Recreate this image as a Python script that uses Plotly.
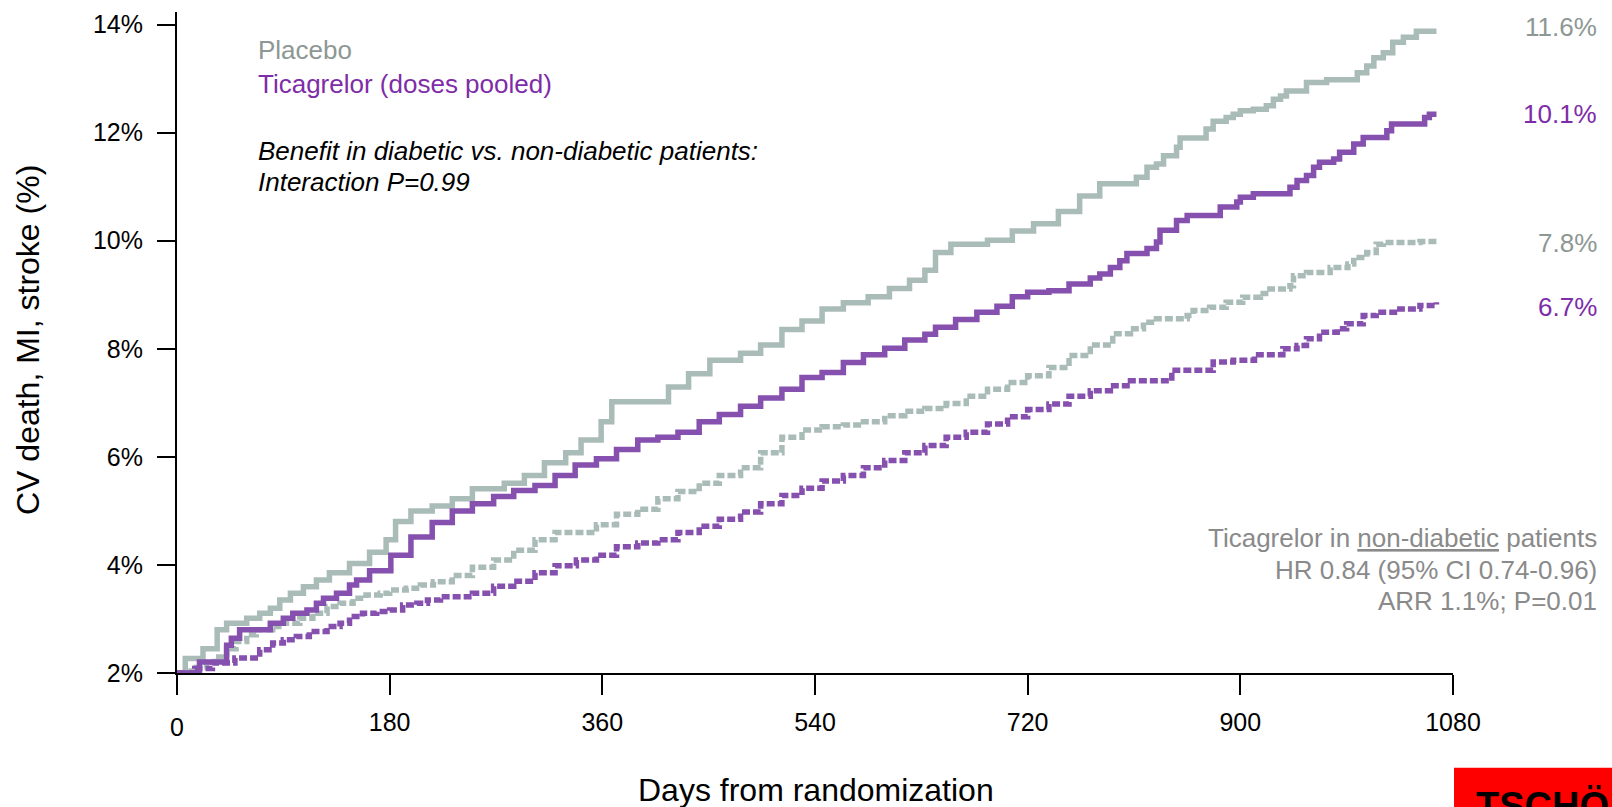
import plotly.graph_objects as go

# Kaplan-Meier cumulative event rates (%), CV death / MI / stroke
placebo_dm_days = [0, 7, 22, 34, 42, 59, 70, 79, 87, 96, 107, 118, 129, 146, 163, 177, 185, 198, 216,
                   233, 250, 277, 294, 311, 329, 342, 359, 368, 416, 433, 451, 477, 494, 512, 529, 546,
                   564, 585, 603, 620, 633, 642, 655, 686, 707, 725, 746, 764, 781, 812, 821, 829, 835,
                   846, 849, 871, 877, 888, 894, 900, 911, 922, 928, 934, 939, 956, 973, 999, 1007, 1013,
                   1021, 1029, 1038, 1049, 1066]
placebo_dm_vals = [0, 0.26, 0.44, 0.78, 0.90, 0.99, 1.08, 1.17, 1.32, 1.44, 1.56, 1.68, 1.81, 1.98, 2.18,
                   2.41, 2.74, 2.93, 3.02, 3.15, 3.33, 3.43, 3.57, 3.80, 3.98, 4.21, 4.54, 4.90, 5.17,
                   5.41, 5.65, 5.78, 5.93, 6.21, 6.36, 6.58, 6.69, 6.80, 6.95, 7.10, 7.28, 7.60, 7.75,
                   7.82, 7.99, 8.12, 8.34, 8.62, 8.84, 8.96, 9.14, 9.20, 9.35, 9.50, 9.67, 9.83, 9.97,
                   10.04, 10.10, 10.16, 10.19, 10.25, 10.37, 10.43, 10.52, 10.67, 10.72, 10.85, 10.97,
                   11.12, 11.21, 11.40, 11.49, 11.6, 11.6]

tica_dm_days = [0, 19, 42, 46, 53, 79, 90, 98, 110, 118, 124, 135, 146, 152, 163, 181, 198, 216, 233,
                250, 268, 285, 303, 320, 337, 355, 372, 390, 407, 424, 442, 459, 477, 494, 512, 529,
                546, 564, 581, 599, 616, 633, 642, 659, 677, 694, 707, 720, 738, 755, 773, 781, 790,
                798, 804, 821, 829, 832, 846, 855, 883, 897, 900, 911, 942, 948, 956, 962, 967, 979,
                984, 996, 1004, 1024, 1028, 1056, 1060, 1066]
tica_dm_vals = [0, 0.2, 0.5, 0.63, 0.78, 0.9, 0.99, 1.08, 1.14, 1.26, 1.35, 1.44, 1.59, 1.68, 1.85,
                2.13, 2.46, 2.72, 2.93, 3.06, 3.19, 3.30, 3.39, 3.57, 3.76, 3.87, 4.04, 4.21, 4.26,
                4.35, 4.54, 4.67, 4.82, 4.97, 5.13, 5.34, 5.43, 5.61, 5.75, 5.87, 6.02, 6.12, 6.25,
                6.39, 6.52, 6.63, 6.80, 6.88, 6.91, 7.03, 7.14, 7.21, 7.33, 7.45, 7.58, 7.67, 7.79,
                8.00, 8.18, 8.27, 8.42, 8.51, 8.60, 8.66, 8.78, 8.90, 8.99, 9.14, 9.23, 9.29, 9.41,
                9.56, 9.68, 9.80, 9.92, 10.04, 10.1, 10.1]

placebo_nodm_days = [0, 12, 25, 32, 42, 50, 59, 67, 81, 90, 104, 115, 127, 138, 149, 160, 172, 180,
                     194, 206, 217, 233, 250, 268, 285, 303, 320, 355, 372, 390, 407, 424, 442, 459,
                     477, 494, 512, 529, 546, 564, 581, 599, 616, 633, 651, 668, 686, 703, 720, 738,
                     755, 773, 792, 807, 818, 829, 855, 860, 874, 888, 902, 917, 925, 942, 945, 956,
                     976, 991, 996, 1007, 1015, 1021, 1052, 1066]
placebo_nodm_vals = [0, 0.1, 0.2, 0.29, 0.44, 0.57, 0.69, 0.78, 0.84, 0.90, 0.99, 1.08, 1.20, 1.26,
                     1.35, 1.41, 1.44, 1.50, 1.53, 1.59, 1.65, 1.76, 1.91, 2.04, 2.22, 2.41, 2.54,
                     2.68, 2.87, 2.96, 3.15, 3.28, 3.43, 3.57, 3.71, 3.98, 4.26, 4.39, 4.45, 4.48,
                     4.54, 4.65, 4.73, 4.78, 4.87, 5.00, 5.13, 5.25, 5.37, 5.52, 5.74, 5.93, 6.13,
                     6.22, 6.34, 6.40, 6.46, 6.55, 6.61, 6.70, 6.79, 6.86, 6.94, 7.00, 7.18, 7.24,
                     7.33, 7.39, 7.51, 7.60, 7.75, 7.78, 7.8, 7.8]

tica_nodm_days = [0, 15, 30, 49, 70, 81, 90, 101, 112, 127, 138, 146, 157, 169, 180, 191, 203, 212,
                  223, 250, 268, 285, 303, 320, 338, 355, 372, 390, 407, 424, 442, 459, 477, 494, 512,
                  529, 546, 564, 581, 599, 616, 633, 651, 668, 686, 703, 720, 738, 755, 773, 790, 807,
                  842, 877, 894, 912, 936, 948, 956, 967, 982, 990, 1004, 1015, 1035, 1052, 1066]
tica_nodm_vals = [0, 0.08, 0.18, 0.27, 0.42, 0.54, 0.60, 0.66, 0.75, 0.84, 0.90, 1.02, 1.08, 1.11,
                  1.14, 1.23, 1.26, 1.32, 1.38, 1.44, 1.57, 1.66, 1.81, 1.94, 2.04, 2.13, 2.28, 2.35,
                  2.41, 2.54, 2.65, 2.78, 2.91, 3.06, 3.21, 3.34, 3.47, 3.57, 3.71, 3.84, 3.98, 4.11,
                  4.26, 4.35, 4.50, 4.63, 4.76, 4.86, 5.00, 5.10, 5.19, 5.28, 5.47, 5.62, 5.65, 5.75,
                  5.86, 5.92, 6.04, 6.16, 6.22, 6.31, 6.46, 6.52, 6.58, 6.64, 6.70]

end_labels = ["11.6%", "10.1%", "7.8%", "6.7%"]

x_ticks = [0, 180, 360, 540, 720, 900, 1080]
x_ticktext = ["", "180", "360", "540", "720", "900", "1080"]
y_ticktext = ["2%", "4%", "6%", "8%", "10%", "12%", "14%"]

GRAY = "#aabcb8"
PURPLE = "#8650ae"
GRAY_TXT = "#8d9794"
PURPLE_TXT = "#7e2ca8"
NOTE_TXT = "#8a8a8a"
FONT = "Arial, Liberation Sans, sans-serif"

W, H = 1612, 807
L, R, T, B = 177, 159, 10, 134
PW, PH = W - L - R, H - T - B
PX_PER_PCT = 55.5
Y_MAX = PH / PX_PER_PCT
Y_STEP = 108.4 / PX_PER_PCT


def xp(px):
    return (px - L) / PW


def yp(py):
    return (H - B - py) / PH


fig = go.Figure()
series = [
    (placebo_dm_days, placebo_dm_vals, GRAY, "solid"),
    (placebo_nodm_days, placebo_nodm_vals, GRAY, "8px,3px"),
    (tica_nodm_days, tica_nodm_vals, PURPLE, "8px,3px"),
    (tica_dm_days, tica_dm_vals, PURPLE, "solid"),
]
for d, v, c, dash in series:
    assert len(d) == len(v)
    fig.add_trace(go.Scatter(x=d, y=v, mode="lines", line=dict(color=c, width=5.5, dash=dash, shape="hv"),
                             showlegend=False, hoverinfo="skip"))

ann = []


def text(x, y, s, size=26, color="black", xanchor="left", yanchor="middle", italic=False, **kw):
    ann.append(dict(x=xp(x), y=yp(y), xref="paper", yref="paper", text=s, showarrow=False,
                    xanchor=xanchor, yanchor=yanchor,
                    font=dict(family=FONT, size=size, color=color, style="italic" if italic else "normal"),
                    **kw))


# legend and interaction note
text(256, 48, "Placebo", color=GRAY_TXT)
text(256, 82, "Ticagrelor (doses pooled)", color=PURPLE_TXT)
text(256, 149, "Benefit in diabetic vs. non-diabetic patients:", italic=True)
text(256, 181, "Interaction P=0.99", italic=True)

# end-of-curve rates
end_colors = [GRAY_TXT, PURPLE_TXT, GRAY_TXT, PURPLE_TXT]
end_rows = [25, 112, 242, 306]
for lab, row, col in zip(end_labels, end_rows, end_colors):
    text(1599, row, lab, color=col, xanchor="right")

# non-diabetic summary
text(1599, 538, "Ticagrelor in <u>non-diabetic</u> patients", color=NOTE_TXT, xanchor="right")
text(1599, 570, "HR 0.84 (95% CI 0.74-0.96)", color=NOTE_TXT, xanchor="right")
text(1599, 601, "ARR 1.1%; P=0.01", color=NOTE_TXT, xanchor="right")

# axis titles and origin label
text(816, 790, "Days from randomization", size=32, xanchor="center")
text(28, 339, "CV death, MI, stroke (%)", size=32, xanchor="center", textangle=-90)
text(177, 727, "0", size=25, xanchor="center")

# corner badge
text(1474, 806, "<b>TSCHÖ</b>", size=38, yanchor="middle")

fig.update_layout(
    width=W, height=H, autosize=False,
    margin=dict(l=L, r=R, t=T, b=B, pad=0),
    plot_bgcolor="white", paper_bgcolor="white",
    font=dict(family=FONT, size=25, color="black"),
    annotations=ann,
    shapes=[dict(type="rect", xref="paper", yref="paper", x0=xp(1454), x1=xp(1620), y0=yp(768),
                 y1=yp(815), fillcolor="#ff0000", line=dict(width=0), layer="below")],
)
fig.update_xaxes(range=[0, 1080], tickvals=x_ticks, ticktext=x_ticktext, showgrid=False, zeroline=False,
                 showline=True, linecolor="black", linewidth=2, ticks="outside", ticklen=20, tickwidth=2,
                 tickcolor="black", tickfont=dict(size=25), ticklabelstandoff=6)
fig.update_yaxes(range=[0, Y_MAX], tickvals=[i * Y_STEP for i in range(7)], ticktext=y_ticktext,
                 showgrid=False, zeroline=False, showline=True, linecolor="black", linewidth=2,
                 ticks="outside", ticklen=18, tickwidth=2, tickcolor="black", tickfont=dict(size=25),
                 ticklabelstandoff=9)

fig.write_html("out.html")
